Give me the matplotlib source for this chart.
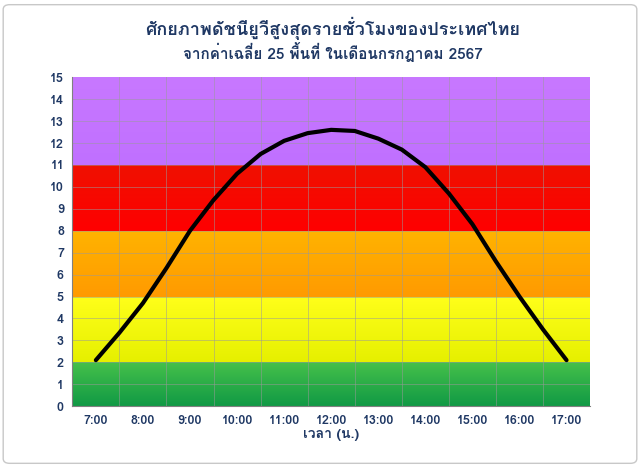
import matplotlib.pyplot as plt
import numpy as np
from matplotlib.patches import FancyBboxPatch
from matplotlib.colors import LinearSegmentedColormap
from matplotlib import font_manager
from matplotlib.ft2font import FT2Font

hours = [7, 7.5, 8, 8.5, 9, 9.5, 10, 10.5, 11, 11.5, 12, 12.5, 13, 13.5, 14, 14.5, 15, 15.5, 16, 16.5, 17]
uv = [2.1, 3.35, 4.7, 6.3, 8.0, 9.4, 10.6, 11.5, 12.1, 12.45, 12.6, 12.55, 12.2, 11.7, 10.9, 9.7, 8.3, 6.6, 5.0, 3.5, 2.1]
tick_labels = ['7:00', '8:00', '9:00', '10:00', '11:00', '12:00', '13:00', '14:00', '15:00', '16:00', '17:00']

# risk bands: (low, high, bottom colour, top colour)
bands = [(0, 2, '#119a45', '#45c04a'),
         (2, 5, '#e6f000', '#ffff1a'),
         (5, 8, '#ff9a00', '#ffb300'),
         (8, 11, '#ff0000', '#f01000'),
         (11, 15, '#c070ff', '#c878ff')]

# find an installed family that has Thai glyphs
thai_fams = []
for f in font_manager.fontManager.ttflist:
    try:
        if 0x0E01 in FT2Font(f.fname).get_charmap() and f.name not in thai_fams:
            thai_fams.append(f.name)
    except Exception:
        pass
plt.rcParams['font.family'] = thai_fams[:2] + ['DejaVu Sans']

navy = '#1f3864'
fig = plt.figure(figsize=(6.4, 4.68), dpi=100)
fig.patches.append(FancyBboxPatch((0.005, 0.01), 0.99, 0.98, boxstyle='round,pad=0,rounding_size=0.01',
                                  transform=fig.transFigure, fill=False, edgecolor='#c8c8c8', lw=1))
ax = fig.add_axes([0.113, 0.132, 0.809, 0.703])

for lo, hi, c0, c1 in bands:
    grad = np.linspace(0, 1, 50).reshape(-1, 1)
    cmap = LinearSegmentedColormap.from_list('b', [c0, c1])
    ax.imshow(grad, extent=[6.5, 17.5, lo, hi], origin='lower', aspect='auto', cmap=cmap, zorder=0)

for y in range(1, 15):
    ax.axhline(y, color='#9a9a9a', lw=0.6, alpha=0.6, zorder=1)
for x in np.arange(7.5, 17.5, 1):
    ax.axvline(x, color='#9a9a9a', lw=0.6, alpha=0.6, zorder=1)

ax.plot(hours, uv, color='black', lw=3, zorder=3, solid_capstyle='round', solid_joinstyle='round')

ax.set_xlim(6.5, 17.5)
ax.set_ylim(0, 15)
ax.set_xticks(range(7, 18))
ax.set_xticklabels(tick_labels)
ax.set_yticks(range(0, 16))
ax.tick_params(length=0, labelsize=9, labelcolor=navy, pad=6)
for lab in ax.get_xticklabels() + ax.get_yticklabels():
    lab.set_fontweight('bold')
for s in ['top', 'right']:
    ax.spines[s].set_visible(False)
for s in ['left', 'bottom']:
    ax.spines[s].set_color('#808080')

ax.set_xlabel('เวลา (น.)', fontsize=10, fontweight='bold', color=navy, labelpad=2)
fig.text(0.52, 0.925, 'ศักยภาพดัชนียูวีสูงสุดรายชั่วโมงของประเทศไทย', ha='center', fontsize=13,
         fontweight='bold', color=navy)
fig.text(0.52, 0.875, 'จากค่าเฉลี่ย 25 พื้นที่ ในเดือนกรกฎาคม 2567', ha='center', fontsize=11,
         fontweight='bold', color=navy)

fig.savefig('out.png', dpi=100)
